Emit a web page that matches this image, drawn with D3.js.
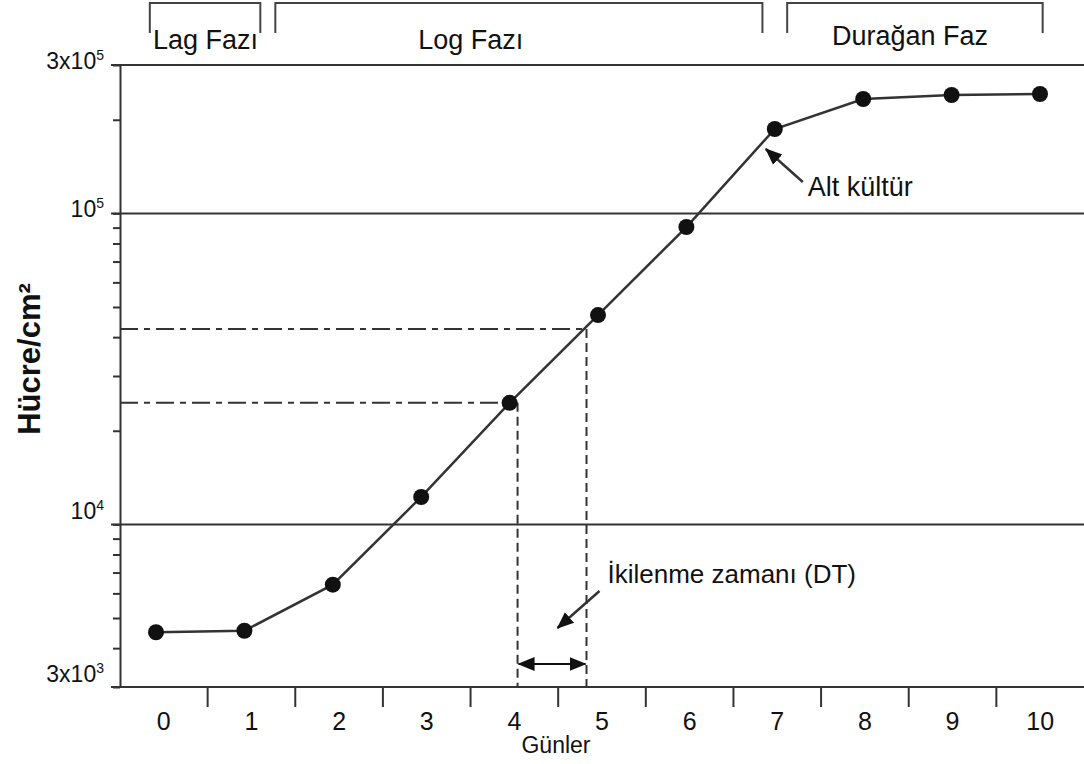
<!DOCTYPE html>
<html>
<head>
<meta charset="utf-8">
<script src="https://cdn.jsdelivr.net/npm/d3@7"></script>
<style>
  body { margin: 0; background: #fff; }
  text { font-family: Arial, "Liberation Sans", sans-serif; fill: #111; }
</style>
</head>
<body>
<div id="chart"></div>
<script>
// data
var days = [0, 1, 2, 3, 4, 5, 6, 7, 8, 9, 10];
var cells = [4500, 4550, 6400, 12250, 24600, 47100, 90400, 186800, 233200, 240200, 242000];

var yLabelValues = [3e5, 1e5, 1e4, 3e3];
var yLabelBase = ["3x10", "10", "10", "3x10"];
var yLabelExp = ["5", "5", "4", "3"];
var gridValues = [3e5, 1e5, 1e4];

var phaseNames = ["Lag Fazı", "Log Fazı", "Durağan Faz"];
var phaseFrom = [-0.07, 1.35, 7.14];
var phaseTo = [1.18, 6.86, 10.03];
var phaseLabelAt = [0.56, 3.56, 8.53];

// doubling time guides (day, cells/cm2)
var dtDays = [4.09, 4.87];
var dtLevels = [24600, 42500];

var width = 1084;
var height = 764;

var svg = d3.select("#chart")
    .append("svg")
    .attr("width", width)
    .attr("height", height);

svg.append("rect").attr("width", width).attr("height", height).attr("fill", "#fff");

var defs = svg.append("defs");
defs.append("marker")
    .attr("id", "head")
    .attr("viewBox", "0 -8 17 16")
    .attr("refX", 16)
    .attr("refY", 0)
    .attr("markerUnits", "userSpaceOnUse")
    .attr("markerWidth", 17)
    .attr("markerHeight", 16)
    .attr("orient", "auto-start-reverse")
    .append("path")
    .attr("d", "M0,-7L17,0L0,7Z")
    .attr("fill", "#111");

var xBand = d3.scaleBand().domain(days).range([120, 1084]);
var xp = d3.scaleLinear().domain([0, 10]).range([156, 1040]);
var y = d3.scaleLog().domain([3e3, 3e5]).range([687, 65]);

var ink = "#333";

// y axis with log minor ticks
var yAxis = svg.append("g")
    .attr("transform", "translate(120,0)")
    .call(d3.axisLeft(y).tickValues(y.ticks()).tickSize(7).tickSizeOuter(0).tickFormat(""));
yAxis.selectAll("path, line").attr("stroke", ink).attr("stroke-width", 2);

// horizontal reference lines
svg.selectAll(".grid")
    .data(gridValues)
    .enter().append("line")
    .attr("class", "grid")
    .attr("x1", 111).attr("x2", 1084)
    .attr("y1", function(d) { return y(d); })
    .attr("y2", function(d) { return y(d); })
    .attr("stroke", ink)
    .attr("stroke-width", 2);

// y labels
var yl = svg.selectAll(".ylab")
    .data(yLabelValues)
    .enter().append("text")
    .attr("class", "ylab")
    .attr("x", 104)
    .attr("y", function(d) { return y(d) + (d >= 1e5 ? 4 : -5); })
    .attr("text-anchor", "end")
    .style("font-size", "23px");
yl.append("tspan").text(function(d, i) { return yLabelBase[i]; });
yl.append("tspan")
    .attr("dy", -9)
    .style("font-size", "14px")
    .text(function(d, i) { return yLabelExp[i]; });

svg.append("text")
    .attr("transform", "translate(40,359) rotate(-90)")
    .attr("text-anchor", "middle")
    .style("font-size", "31px")
    .style("font-weight", "bold")
    .text("Hücre/cm²");

// x axis
var y0 = y(3e3);
svg.append("line")
    .attr("x1", 111).attr("x2", 1084)
    .attr("y1", y0).attr("y2", y0)
    .attr("stroke", ink).attr("stroke-width", 2);

svg.selectAll(".xtick")
    .data(days.slice(0, -1))
    .enter().append("line")
    .attr("class", "xtick")
    .attr("x1", function(d) { return xBand(d) + xBand.bandwidth(); })
    .attr("x2", function(d) { return xBand(d) + xBand.bandwidth(); })
    .attr("y1", y0).attr("y2", y0 + 20)
    .attr("stroke", ink).attr("stroke-width", 2);

var xAxis = svg.append("g")
    .attr("transform", "translate(0," + y0 + ")")
    .call(d3.axisBottom(xBand).tickSize(0).tickPadding(25));
xAxis.select(".domain").remove();
xAxis.selectAll("text")
    .style("font-size", "25px")
    .style("font-family", "Arial, 'Liberation Sans', sans-serif")
    .attr("fill", "#111");

svg.append("text")
    .attr("x", 556)
    .attr("y", 753)
    .attr("text-anchor", "middle")
    .style("font-size", "23px")
    .text("Günler");

// phase brackets
var ph = svg.selectAll(".phase")
    .data(phaseNames)
    .enter().append("g")
    .attr("class", "phase");

ph.append("path")
    .attr("d", function(d, i) {
        var a = xp(phaseFrom[i]), b = xp(phaseTo[i]);
        return "M" + a + ",33V3H" + b + "V33";
    })
    .attr("fill", "none")
    .attr("stroke", "#444")
    .attr("stroke-width", 2);

ph.append("text")
    .attr("x", function(d, i) { return xp(phaseLabelAt[i]); })
    .attr("y", function(d, i) { return i == 2 ? 45 : 49; })
    .attr("text-anchor", "middle")
    .style("font-size", "27px")
    .text(function(d) { return d; });

// doubling time guides
dtDays.forEach(function(d, i) {
    svg.append("line")
        .attr("x1", 120).attr("x2", xp(d))
        .attr("y1", y(dtLevels[i])).attr("y2", y(dtLevels[i]))
        .attr("stroke", ink).attr("stroke-width", 2)
        .attr("stroke-dasharray", "18,6,6,6");
    svg.append("line")
        .attr("x1", xp(d)).attr("x2", xp(d))
        .attr("y1", y(dtLevels[i])).attr("y2", y0)
        .attr("stroke", ink).attr("stroke-width", 2)
        .attr("stroke-dasharray", "9,5");
});

svg.append("line")
    .attr("x1", xp(dtDays[0]) + 1).attr("x2", xp(dtDays[1]) - 1)
    .attr("y1", y0 - 23).attr("y2", y0 - 23)
    .attr("stroke", "#111").attr("stroke-width", 2)
    .attr("marker-start", "url(#head)")
    .attr("marker-end", "url(#head)");

// growth curve
var line = d3.line()
    .x(function(d, i) { return xp(days[i]); })
    .y(function(d) { return y(d); });

svg.append("path")
    .datum(cells)
    .attr("d", line)
    .attr("fill", "none")
    .attr("stroke", ink)
    .attr("stroke-width", 2.5);

svg.selectAll(".dot")
    .data(cells)
    .enter().append("circle")
    .attr("class", "dot")
    .attr("cx", function(d, i) { return xp(days[i]); })
    .attr("cy", function(d) { return y(d); })
    .attr("r", 8)
    .attr("fill", "#111");

// annotations
var ax = xp(7), ay = y(cells[7]);
svg.append("line")
    .attr("x1", ax + 28).attr("y1", ay + 53)
    .attr("x2", ax - 9).attr("y2", ay + 20)
    .attr("stroke", ink).attr("stroke-width", 2.5)
    .attr("marker-end", "url(#head)");
svg.append("text")
    .attr("x", ax + 33)
    .attr("y", ay + 67)
    .style("font-size", "27px")
    .text("Alt kültür");

var dx = xp(dtDays[1]);
svg.append("line")
    .attr("x1", dx + 13).attr("y1", y0 - 96)
    .attr("x2", dx - 29).attr("y2", y0 - 59)
    .attr("stroke", ink).attr("stroke-width", 2.5)
    .attr("marker-end", "url(#head)");
svg.append("text")
    .attr("x", dx + 21)
    .attr("y", y0 - 104)
    .style("font-size", "26px")
    .text("İkilenme zamanı (DT)");
</script>
</body>
</html>
